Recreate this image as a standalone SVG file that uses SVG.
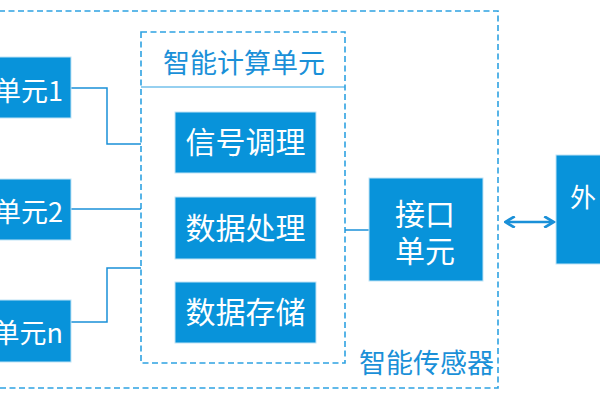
<svg xmlns="http://www.w3.org/2000/svg" width="600" height="400" viewBox="0 0 600 400">
<defs>
<style>
.box{fill:#0893DA;stroke:#BFE3F6;stroke-width:1}
.dash{fill:none;stroke:#2EA2E2;stroke-width:1.6;stroke-dasharray:6 3.5}
.wt{fill:#fff;font-family:"Noto Sans CJK SC","Noto Sans",sans-serif}
.bt{fill:#1A90D8;font-family:"Noto Sans CJK SC","Noto Sans",sans-serif}
.conn{fill:none;stroke:#1A90D8;stroke-width:1.5}
</style>
<marker id="ah" viewBox="0 0 10 10" refX="8" refY="5" markerWidth="5" markerHeight="5" orient="auto-start-reverse" markerUnits="strokeWidth">
<path d="M1,0.5 L8.5,5 L1,9.5" fill="none" stroke="#1A90D8" stroke-width="2.2"/>
</marker>
</defs>
<rect width="600" height="400" fill="#fff"/>
<g id="sensor">
<rect class="dash" x="-20" y="11" width="518" height="377"/>
<text class="bt" x="494" y="373" font-size="27" text-anchor="end">智能传感器</text>
</g>
<g id="compute">
<rect class="dash" x="141" y="32" width="204" height="331"/>
<line x1="141" y1="87" x2="345" y2="87" stroke="#2EA2E2" stroke-width="1.2"/>
<text class="bt" x="244" y="73" font-size="27" text-anchor="middle">智能计算单元</text>
</g>
<g id="connectors">
<polyline class="conn" points="71,88 107,88 107,144 141,144"/>
<line class="conn" x1="71" y1="209" x2="141" y2="209"/>
<polyline class="conn" points="71,322 107,322 107,268 141,268"/>
<line class="conn" x1="345" y1="230" x2="369" y2="230"/>
<line x1="506" y1="222" x2="553" y2="222" stroke="#1A90D8" stroke-width="2.5" marker-start="url(#ah)" marker-end="url(#ah)"/>
</g>
<g id="unit1">
<rect class="box" x="-10" y="57" width="81" height="61"/>
<text class="wt" x="63" y="101" font-size="27" text-anchor="end">单元1</text>
</g>
<g id="unit2">
<rect class="box" x="-10" y="179" width="81" height="61"/>
<text class="wt" x="63" y="222" font-size="27" text-anchor="end">单元2</text>
</g>
<g id="unitn">
<rect class="box" x="-10" y="300" width="81" height="62"/>
<text class="wt" x="63" y="343" font-size="27" text-anchor="end">单元n</text>
</g>
<g id="signal">
<rect class="box" x="175" y="112" width="141" height="61"/>
<text class="wt" x="245.5" y="153" font-size="30" text-anchor="middle">信号调理</text>
</g>
<g id="process">
<rect class="box" x="175" y="197" width="141" height="62"/>
<text class="wt" x="245.5" y="239" font-size="30" text-anchor="middle">数据处理</text>
</g>
<g id="storage">
<rect class="box" x="175" y="282" width="141" height="61"/>
<text class="wt" x="245.5" y="323" font-size="30" text-anchor="middle">数据存储</text>
</g>
<g id="interface">
<rect class="box" x="369" y="178" width="114" height="103"/>
<text class="wt" x="425" y="225" font-size="30" text-anchor="middle">接口</text>
<text class="wt" x="425" y="262" font-size="30" text-anchor="middle">单元</text>
</g>
<g id="external">
<rect class="box" x="556" y="155" width="60" height="109"/>
<text class="wt" x="570" y="207" font-size="26">外</text>
</g>
</svg>
